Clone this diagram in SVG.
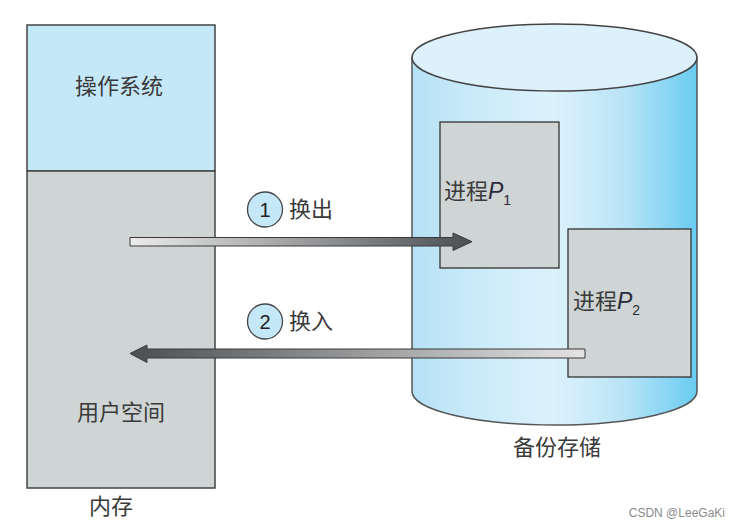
<svg xmlns="http://www.w3.org/2000/svg" width="741" height="526" viewBox="0 0 741 526">
<style>
.t{font-family:"Noto Sans CJK SC","Liberation Sans",sans-serif;font-size:22px;fill:#3a3a3a}
.p{font-family:"Liberation Sans",sans-serif;font-style:italic;font-size:23px;fill:#2a2a3a}
.s{font-family:"Liberation Sans",sans-serif;font-size:14px;fill:#2a2a3a}
.n{font-family:"Liberation Sans",sans-serif;font-size:20px;fill:#222}
.box{stroke:#444;stroke-width:1.5}
.proc{fill:#cfd4d4;stroke:#333;stroke-width:1.3}
.circ{fill:#c5e8f8;stroke:#444;stroke-width:1.3}
.arr{stroke:#3a3a3a;stroke-width:1}
</style>
<defs>
<linearGradient id="cyl" x1="0" y1="0" x2="1" y2="0">
<stop offset="0" stop-color="#b5e0f5"/>
<stop offset="0.2" stop-color="#c9eaf9"/>
<stop offset="0.5" stop-color="#dcf2fc"/>
<stop offset="0.75" stop-color="#b8e3f6"/>
<stop offset="1" stop-color="#68ccf1"/>
</linearGradient>
<linearGradient id="g1" x1="130" y1="0" x2="472" y2="0" gradientUnits="userSpaceOnUse">
<stop offset="0" stop-color="#ececec"/>
<stop offset="1" stop-color="#4a4e52"/>
</linearGradient>
<linearGradient id="g2" x1="130" y1="0" x2="585" y2="0" gradientUnits="userSpaceOnUse">
<stop offset="0" stop-color="#4a4e52"/>
<stop offset="1" stop-color="#e4e4e4"/>
</linearGradient>
</defs>
<g id="memory">
<rect x="27" y="25" width="188" height="146" fill="#c5e8f8" class="box"/>
<rect x="27" y="171" width="188" height="317" fill="#cfd4d4" class="box"/>
<text x="119" y="94" text-anchor="middle" class="t">操作系统</text>
<text x="121" y="420" text-anchor="middle" class="t">用户空间</text>
<text x="111" y="514" text-anchor="middle" class="t">内存</text>
</g>
<g id="backing-store">
<path d="M412,57.5 L412,391.5 A142.5,33.5 0 0 0 697,391.5 L697,57.5 Z" fill="url(#cyl)" stroke="#555" stroke-width="1.5"/>
<ellipse cx="554.5" cy="57.5" rx="142.5" ry="33.5" fill="#dcf1fb" stroke="#444" stroke-width="1.5"/>
<text x="557" y="455" text-anchor="middle" class="t">备份存储</text>
</g>
<g id="p1">
<rect x="440" y="122" width="119" height="146" class="proc"/>
<text x="444" y="199" class="t">进程<tspan class="p">P</tspan><tspan class="s" dy="6">1</tspan></text>
</g>
<g id="p2">
<rect x="568" y="229" width="123" height="148" class="proc"/>
<text x="573" y="309" class="t">进程<tspan class="p">P</tspan><tspan class="s" dy="6">2</tspan></text>
</g>
<g id="connectors">
<path class="arr" d="M130,237.5 L453,237.5 L453,233 L472,241.7 L453,250.5 L453,246 L130,246 Z" fill="url(#g1)"/>
<path class="arr" d="M585,349 L147,349 L147,345 L130,353.5 L147,362.5 L147,358 L585,358 Z" fill="url(#g2)"/>
</g>
<g id="label1">
<circle cx="265" cy="209.5" r="17.5" class="circ"/>
<text x="265" y="216.5" text-anchor="middle" class="n">1</text>
<text x="289" y="217" class="t">换出</text>
</g>
<g id="label2">
<circle cx="265" cy="321.5" r="17.5" class="circ"/>
<text x="265" y="328.5" text-anchor="middle" class="n">2</text>
<text x="289" y="329" class="t">换入</text>
</g>
<text x="725" y="517" text-anchor="end" font-family="Liberation Sans, sans-serif" font-size="12" fill="#8a8a8a">CSDN @LeeGaKi</text>
</svg>
